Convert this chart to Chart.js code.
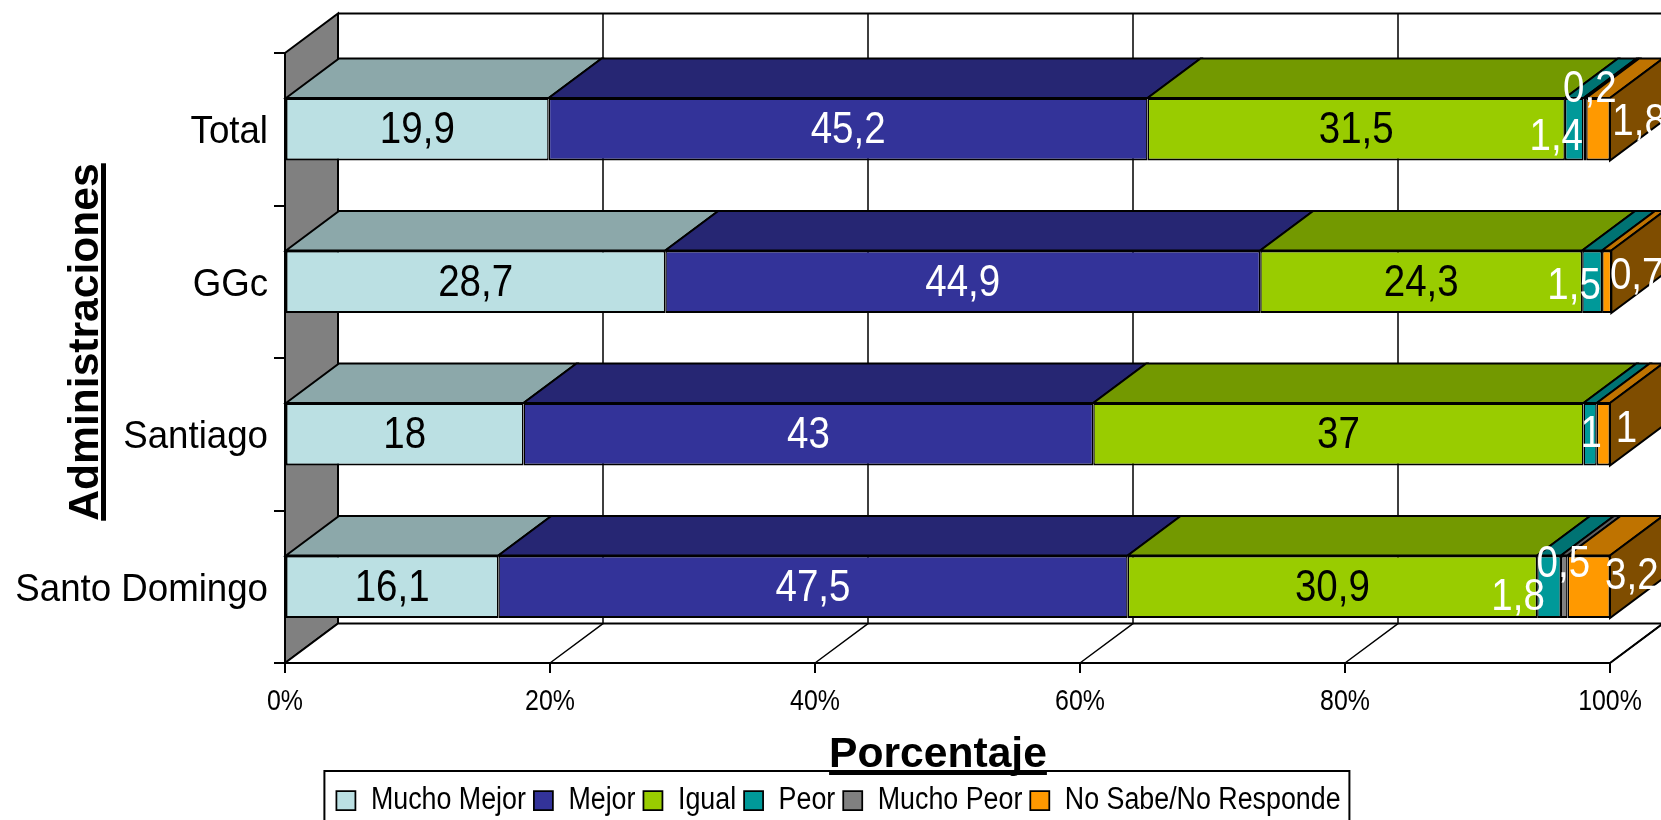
<!DOCTYPE html>
<html>
<head>
<meta charset="utf-8">
<title>Administraciones</title>
<script src="https://cdn.jsdelivr.net/npm/chart.js@4/dist/chart.umd.min.js"></script>
<style>
  html, body { margin: 0; background: #fff; overflow: hidden; }
  canvas { display: block; }
</style>
</head>
<body>
<canvas id="chart" width="1661" height="820"></canvas>
<script>
const categories = ['Total', 'GGc', 'Santiago', 'Santo Domingo'];
const seriesNames = ['Mucho Mejor', 'Mejor', 'Igual', 'Peor', 'Mucho Peor', 'No Sabe/No Responde'];
const muchoMejor = [19.9, 28.7, 18, 16.1];
const mejor = [45.2, 44.9, 43, 47.5];
const igual = [31.5, 24.3, 37, 30.9];
const peor = [1.4, 1.5, 1, 1.8];
const muchoPeor = [0.2, 0, 0, 0.5];
const noSabe = [1.8, 0.7, 1, 3.2];
const seriesValues = [muchoMejor, mejor, igual, peor, muchoPeor, noSabe];

// front, top and side shades of each series
const frontColors = ['#BBE0E3', '#333399', '#99CC00', '#009999', '#808080', '#FF9900'];
const topColors = ['#8CA8AA', '#262673', '#739900', '#007373', '#606060', '#BF7300'];
const sideColor = '#7F4D00';
const labelColors = ['#000', '#fff', '#000', '#fff', '#fff', '#fff'];

// small segments get their label pushed off the bar: [dx, dy] by series then category
const labelNudges = {
  3: { 0: [-18, 9], 1: [-18, 5], 2: [1, 1], 3: [-31, 11] },
  4: { 0: [5, -39], 3: [-1, -22] },
  5: { 0: [41, -6], 1: [30, -5], 2: [23, -4], 3: [43, -10] }
};

const sans = '"Liberation Sans", Arial, sans-serif';
const depthX = 53;
const depthY = 39.5;
const ink = '#000';

// no narrow face is installed, so regular text is squeezed sideways per font size
const squeezeBySize = { 30: 0.83, 31: 0.865, 39: 0.94, 44: 0.875 };

function squeezeFor(ctx) {
  const m = /^(\d+)px/.exec(ctx.font);
  return m ? (squeezeBySize[m[1]] || 1) : 1;
}

function condenseText(ctx) {
  const fill = ctx.fillText.bind(ctx);
  const measure = ctx.measureText.bind(ctx);
  ctx.fillText = (text, x, y) => {
    const k = squeezeFor(ctx);
    ctx.save();
    ctx.translate(x, y);
    ctx.scale(k, 1);
    fill(text, 0, 0);
    ctx.restore();
  };
  ctx.measureText = text => {
    const width = measure(text).width * squeezeFor(ctx);
    return { width };
  };
}

function poly(ctx, pts, fill) {
  ctx.beginPath();
  pts.forEach((p, i) => (i ? ctx.lineTo(p[0], p[1]) : ctx.moveTo(p[0], p[1])));
  ctx.closePath();
  if (fill) {
    ctx.fillStyle = fill;
    ctx.fill();
  }
  ctx.stroke();
}

// gray side wall, floor and back wall gridlines
const walls = {
  id: 'walls',
  beforeDatasetsDraw(chart) {
    const { ctx, scales: { x, y } } = chart;
    const l = x.getPixelForValue(0), r = x.getPixelForValue(100);
    const t = y.top, b = y.bottom;
    ctx.save();
    ctx.strokeStyle = ink;
    ctx.lineWidth = 2;
    poly(ctx, [[l, t], [l + depthX, t - depthY], [l + depthX, b - depthY], [l, b]], '#808080');
    poly(ctx, [[l, b], [l + depthX, b - depthY], [r + depthX, b - depthY], [r, b]], '#fff');
    ctx.beginPath();
    ctx.moveTo(l + depthX, t - depthY);
    ctx.lineTo(r + depthX, t - depthY);
    ctx.stroke();
    ctx.lineWidth = 1.5;
    x.ticks.forEach(tick => {
      const px = x.getPixelForValue(tick.value);
      if (tick.value === 0) return;
      ctx.beginPath();
      ctx.moveTo(px, b);
      ctx.lineTo(px + depthX, b - depthY);
      ctx.lineTo(px + depthX, t - depthY);
      ctx.stroke();
    });
    ctx.restore();
  }
};

// top faces of every segment and the end cap of the last one
const barFaces = {
  id: 'barFaces',
  beforeDatasetsDraw(chart) {
    const { ctx } = chart;
    ctx.save();
    ctx.strokeStyle = ink;
    ctx.lineWidth = 2;
    categories.forEach((cat, c) => {
      seriesNames.forEach((name, s) => {
        const bar = chart.getDatasetMeta(s).data[c];
        if (seriesValues[s][c] === 0) return;
        const top = bar.y - bar.height / 2;
        poly(ctx, [[bar.base, top], [bar.base + depthX, top - depthY],
          [bar.x + depthX, top - depthY], [bar.x, top]], topColors[s]);
        if (s === seriesNames.length - 1) {
          const bot = bar.y + bar.height / 2;
          poly(ctx, [[bar.x, top], [bar.x + depthX, top - depthY],
            [bar.x + depthX, bot - depthY], [bar.x, bot]], sideColor);
        }
      });
    });
    ctx.restore();
  }
};

const valueLabels = {
  id: 'valueLabels',
  afterDatasetsDraw(chart) {
    const { ctx } = chart;
    ctx.save();
    ctx.font = '44px ' + sans;
    ctx.textAlign = 'center';
    ctx.textBaseline = 'middle';
    seriesValues.forEach((values, s) => {
      values.forEach((v, c) => {
        if (!v) return;
        const bar = chart.getDatasetMeta(s).data[c];
        const nudge = (labelNudges[s] && labelNudges[s][c]) || [0, 2];
        ctx.fillStyle = labelColors[s];
        ctx.fillText(String(v).replace('.', ','), (bar.base + bar.x) / 2 + nudge[0], bar.y + nudge[1]);
      });
    });
    ctx.restore();
  }
};

function underlined(ctx, text, x, y) {
  ctx.textAlign = 'center';
  ctx.textBaseline = 'alphabetic';
  ctx.fillText(text, x, y);
  const w = ctx.measureText(text).width;
  ctx.fillRect(x - w / 2, y + 3, w, 5);
}

// axis titles are underlined, so they are not the scale's own titles
const axisTitles = {
  id: 'axisTitles',
  afterDraw(chart) {
    const { ctx } = chart;
    ctx.save();
    ctx.fillStyle = ink;
    ctx.font = 'bold 42.6px ' + sans;
    underlined(ctx, 'Porcentaje', 938, 767);
    ctx.translate(98, 342);
    ctx.rotate(-Math.PI / 2);
    underlined(ctx, 'Administraciones', 0, 0);
    ctx.restore();
  }
};

// the long category names need the whole left margin, and the legend row gets its outline
const legendFrame = {
  id: 'legendFrame',
  afterLayout(chart) {
    chart.scales.y.left = 0;
  },
  beforeDraw(chart) {
    const { ctx, legend } = chart;
    const first = legend.legendHitBoxes[0];
    ctx.save();
    ctx.strokeStyle = ink;
    ctx.lineWidth = 2;
    ctx.strokeRect(first.left - 12, legend.top - 6, 1025, 60);
    ctx.restore();
  }
};

const canvas = document.getElementById('chart');
condenseText(canvas.getContext('2d'));

new Chart(canvas, {
  type: 'bar',
  data: {
    labels: categories,
    datasets: seriesNames.map((name, s) => ({
      label: name,
      data: seriesValues[s],
      backgroundColor: frontColors[s],
      borderColor: ink,
      borderWidth: { top: 2, bottom: 2, left: 1.5, right: 1.5 },
      borderSkipped: false,
      categoryPercentage: 1,
      barPercentage: 0.41,
      clip: false
    }))
  },
  plugins: [legendFrame, walls, barFaces, valueLabels, axisTitles],
  options: {
    responsive: false,
    animation: false,
    indexAxis: 'y',
    layout: { padding: { left: 67, right: 51, top: 53, bottom: -6 } },
    scales: {
      x: {
        stacked: true,
        min: 0,
        max: 100,
        afterFit: scale => { scale.height = 114; },
        border: { display: true, color: ink, width: 2 },
        grid: { drawOnChartArea: false, drawTicks: true, color: ink, lineWidth: 2, tickLength: 10 },
        ticks: {
          stepSize: 20,
          maxRotation: 0,
          padding: 11,
          color: ink,
          font: { family: sans, size: 30 },
          callback: v => v + '%'
        }
      },
      y: {
        stacked: true,
        afterFit: scale => { scale.width = 218; },
        border: { display: true, color: ink, width: 2 },
        grid: { drawOnChartArea: false, drawTicks: true, color: ink, lineWidth: 2, tickLength: 11 },
        ticks: {
          padding: 6,
          labelOffset: 3,
          color: ink,
          font: { family: sans, size: 39 }
        }
      }
    },
    plugins: {
      tooltip: { enabled: false },
      legend: {
        position: 'bottom',
        labels: {
          boxWidth: 19,
          boxHeight: 19,
          padding: 8,
          color: ink,
          font: { family: sans, size: 31 }
        }
      }
    }
  }
});
</script>
</body>
</html>
